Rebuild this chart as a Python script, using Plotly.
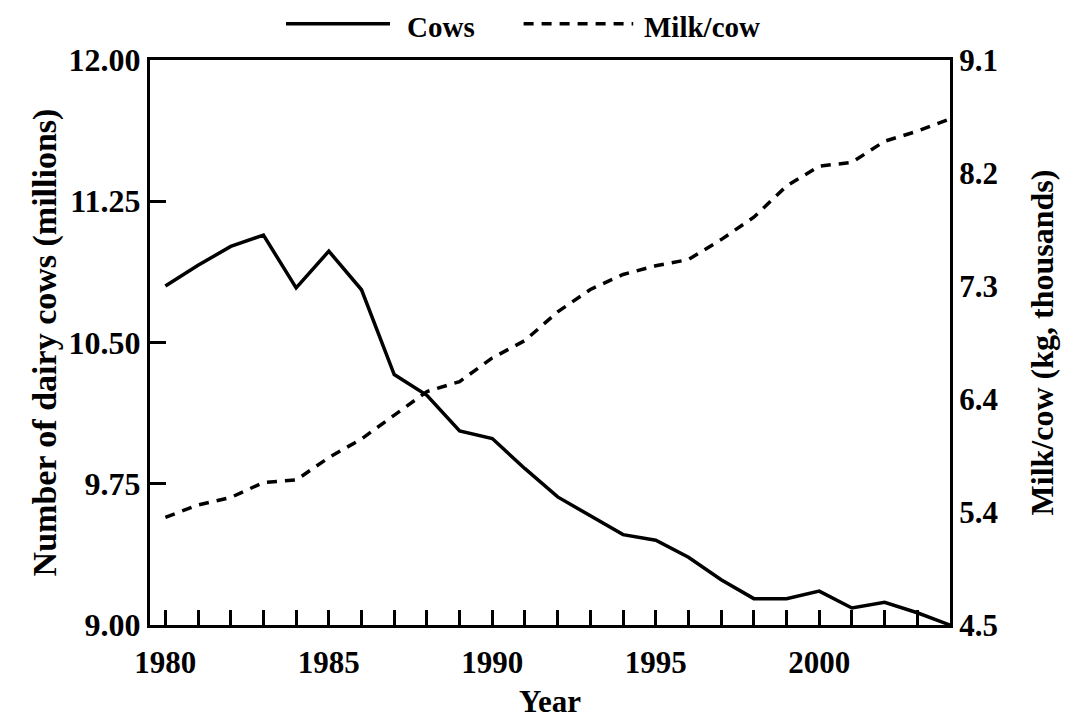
import plotly.graph_objects as go

years = list(range(1980, 2005))
cows_millions = [10.80, 10.91, 11.01, 11.07, 10.79, 10.985, 10.78, 10.33, 10.22, 10.03,
                 9.99, 9.83, 9.68, 9.58, 9.48, 9.45, 9.36, 9.24, 9.14, 9.14,
                 9.18, 9.09, 9.12, 9.065, 9.00]
milk_per_cow = [5.40, 5.50, 5.56, 5.68, 5.70, 5.88, 6.03, 6.22, 6.41, 6.49,
                6.68, 6.82, 7.05, 7.23, 7.35, 7.42, 7.47, 7.63, 7.81, 8.06,
                8.22, 8.25, 8.42, 8.50, 8.60]

x_tick_vals = years
x_tick_text = [str(y) if y % 5 == 0 else "" for y in years]
left_tick_vals = [9.00, 9.75, 10.50, 11.25, 12.00]
right_tick_vals = [4.536, 5.443, 6.350, 7.257, 8.165, 9.072]
right_tick_text = ["4.5", "5.4", "6.4", "7.3", "8.2", "9.1"]

FONT = "Times New Roman"
BLACK = "black"


def bold_font(size):
    return dict(family=FONT, size=size, color=BLACK, weight="bold")


fig = go.Figure()
fig.add_trace(go.Scatter(x=years, y=cows_millions, name="Cows", mode="lines",
                         line=dict(color=BLACK, width=3.5), yaxis="y"))
fig.add_trace(go.Scatter(x=years, y=milk_per_cow, name="Milk/cow", mode="lines",
                         line=dict(color=BLACK, width=3.5, dash="10px,8px"), yaxis="y2"))

fig.update_layout(
    width=1062, height=711,
    margin=dict(l=142, r=120, t=52, b=94),
    paper_bgcolor="white", plot_bgcolor="white",
    showlegend=False,
    font=bold_font(31),
    xaxis=dict(range=[1979.53, 2004], tickvals=x_tick_vals, ticktext=x_tick_text,
               ticks="inside", ticklen=15, tickwidth=2.5, tickcolor=BLACK,
               ticklabelstandoff=8,
               showline=True, linewidth=3, linecolor=BLACK, mirror=True,
               showgrid=False, zeroline=False, automargin=False,
               tickfont=bold_font(31),
               title=dict(text="Year", standoff=17, font=bold_font(31))),
    yaxis=dict(range=[9, 12], tickvals=left_tick_vals, tickformat=".2f",
               ticks="inside", ticklen=16, tickwidth=2.5, tickcolor=BLACK,
               showline=True, linewidth=3, linecolor=BLACK,
               showgrid=False, zeroline=False, automargin=False,
               tickfont=bold_font(32),
               title=dict(text="Number of dairy cows (millions)", standoff=2,
                          font=bold_font(34))),
    yaxis2=dict(range=[4.536, 9.072], overlaying="y", side="right",
                tickvals=right_tick_vals, ticktext=right_tick_text,
                ticks="", showline=True, linewidth=3, linecolor=BLACK,
                showgrid=False, zeroline=False, automargin=False,
                tickfont=bold_font(31),
                title=dict(text="Milk/cow (kg, thousands)", standoff=34,
                           font=bold_font(32))),
)

# custom legend at top (long legend strokes as in the reference)
line_y = 1.064
text_y = 1.058
fig.add_shape(type="line", xref="paper", yref="paper", x0=0.170, x1=0.300, y0=line_y, y1=line_y,
              line=dict(color=BLACK, width=3.5))
fig.add_shape(type="line", xref="paper", yref="paper", x0=0.467, x1=0.604, y0=line_y, y1=line_y,
              line=dict(color=BLACK, width=3.5, dash="10px,8px"))
fig.add_annotation(xref="paper", yref="paper", x=0.319, y=text_y, text="Cows",
                   showarrow=False, xanchor="left", yanchor="middle", font=bold_font(29))
fig.add_annotation(xref="paper", yref="paper", x=0.615, y=text_y, text="Milk/cow",
                   showarrow=False, xanchor="left", yanchor="middle", font=bold_font(29))

fig.write_html("out.html")
